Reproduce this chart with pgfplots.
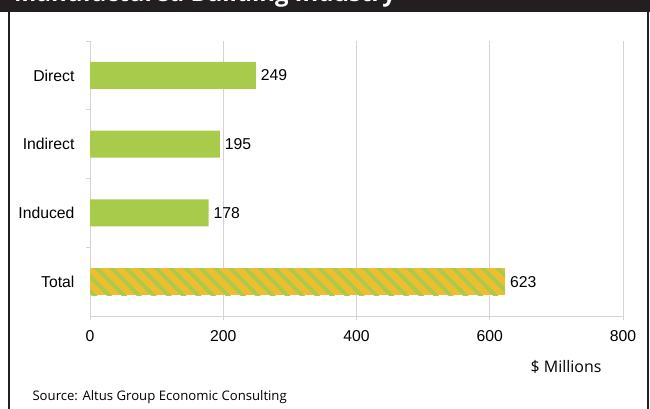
\documentclass[border=0pt]{standalone}
\usepackage{pgfplots}
\pgfplotsset{compat=1.18}
\usetikzlibrary{patterns.meta}
\usepackage{fontspec}
\setmainfont{Liberation Sans}
\newfontfamily\osans{Open Sans}
\definecolor{barGreen}{HTML}{A9CB4B}
\definecolor{barYellow}{HTML}{EFBE30}
\definecolor{darkbar}{HTML}{231F20}
\definecolor{gridgray}{HTML}{D4D4D4}
\begin{document}
\begin{tikzpicture}
\useasboundingbox (0bp,0bp) rectangle (650bp,409bp);
% header bar and frame
\fill[darkbar] (0bp,397bp) rectangle (650bp,409bp);
\node[anchor=base west, text=white, inner sep=0pt, font=\osans\bfseries\fontsize{24}{28}\selectfont] at (14bp,407.5bp) {Manufactured Building Industry};
\fill[darkbar] (7.5bp,0bp) rectangle (9.5bp,397bp);
\fill[darkbar] (647bp,0bp) rectangle (649bp,397bp);
\begin{axis}[
  at={(90bp,93bp)}, anchor=south west,
  scale only axis, width=533bp, height=275bp,
  xmin=0, xmax=800, ymin=-0.5, ymax=3.5,
  y dir=reverse,
  xbar, bar width=27bp, bar shift=0pt,
  xtick={0,200,400,600,800},
  ytick={0,1,2,3},
  yticklabels={Direct,Indirect,Induced,Total},
  minor ytick={-0.5,0.5,1.5,2.5},
  ytick style={draw=none},
  minor y tick style={draw=gridgray, line width=0.8bp},
  x tick style={draw=gridgray, line width=0.8bp},
  tick align=outside, major tick length=4bp, minor tick length=4bp,
  axis x line*=bottom, axis y line*=left,
  axis line style={draw=gridgray, line width=0.8bp, -},
  xmajorgrids, major grid style={draw=gridgray, line width=1bp},
  /pgf/number format/assume math mode=true,
  ticklabel style={font=\fontsize{15.8}{18}\selectfont, text=black},
  xticklabel style={yshift=-7bp},
  yticklabel style={xshift=-8bp},
  nodes near coords,
  nodes near coords style={font=\fontsize{15.8}{18}\selectfont, text=black, anchor=west, xshift=1.5bp},
  point meta=x,
  clip=false,
]
\addplot[fill=barGreen, draw=none] coordinates {(249,0) (195,1) (178,2)};
\addplot[fill=barYellow, draw=none,
  postaction={pattern={Lines[angle=-45, distance=10.5bp, line width=3.8bp]}, pattern color=barGreen}]
  coordinates {(623,3)};
\end{axis}
\node[anchor=east, font=\osans\fontsize{16}{19}\selectfont] at (605bp,42bp) {\$ Millions};
\node[anchor=west, font=\osans\fontsize{13.2}{16}\selectfont] at (29bp,12bp) {Source: Altus Group Economic Consulting};
\end{tikzpicture}
\end{document}
